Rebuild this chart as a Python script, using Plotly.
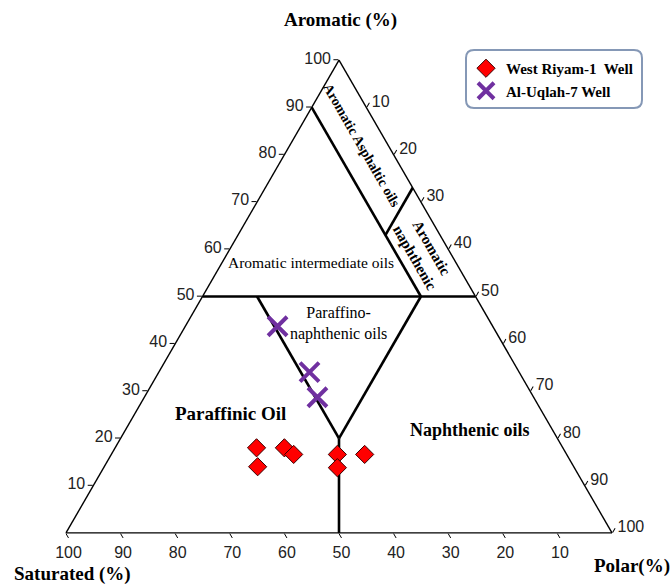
import plotly.graph_objects as go

W, H = 670, 585

# Oil compositions (%) -- Aromatic, Saturated, Polar
riyam_aro = [18.0, 14.0, 18.0, 16.6, 16.6, 13.8, 16.6]
riyam_sat = [56.1, 57.9, 51.0, 50.0, 42.0, 43.4, 37.0]
riyam_pol = [25.9, 28.1, 31.0, 33.4, 41.4, 42.8, 46.4]

uqlah_aro = [43.7, 34.0, 28.7]
uqlah_sat = [39.4, 38.4, 39.6]
uqlah_pol = [16.9, 27.6, 31.7]

# Oil-class boundaries: segment end points as (Aromatic, Saturated, Polar)
boundary_segments = [
    [(50, 50, 0), (50, 0, 50)],
    [(90, 10, 0), (50, 10, 40)],
    [(50, 40, 10), (20, 40, 40)],
    [(50, 10, 40), (20, 40, 40)],
    [(20, 40, 40), (0, 50, 50)],
    [(63, 10, 27), (73, 0, 27)],
]

tick_vals = [10, 20, 30, 40, 50, 60, 70, 80, 90, 100]
tick_text = [str(v) for v in tick_vals]


def px(x):
    return x / W


def py(y):
    return 1 - y / H


fig = go.Figure()

for seg in boundary_segments:
    fig.add_trace(go.Scatterternary(
        a=[p[0] for p in seg], b=[p[1] for p in seg], c=[p[2] for p in seg],
        mode="lines", line=dict(color="black", width=2.6),
        showlegend=False, hoverinfo="skip",
    ))

fig.add_trace(go.Scatterternary(
    a=riyam_aro, b=riyam_sat, c=riyam_pol, mode="markers",
    name="West Riyam-1\u00a0 Well",
    marker=dict(symbol="diamond", size=14, color="#ff0000",
                line=dict(color="#3a0000", width=1)),
))
fig.add_trace(go.Scatterternary(
    a=uqlah_aro, b=uqlah_sat, c=uqlah_pol, mode="markers",
    name="Al-Uqlah-7 Well",
    marker=dict(symbol="x-thin", size=19, color="#7030a0",
                line=dict(color="#7030a0", width=4)),
))

axis_style = dict(
    tickmode="array", tickvals=tick_vals, ticktext=tick_text,
    ticks="outside", ticklen=5, tickwidth=1, tickcolor="black",
    linecolor="black", linewidth=1.4, showgrid=False,
    tickfont=dict(family="Liberation Sans", size=16, color="#222"),
    title=dict(text=""),
)

fig.update_layout(
    width=W, height=H,
    margin=dict(l=0, r=0, t=0, b=0),
    paper_bgcolor="white",
    ternary=dict(
        sum=100, bgcolor="white",
        domain=dict(x=[px(66), px(612)], y=[py(533), py(60)]),
        aaxis=axis_style, baxis=axis_style, caxis=axis_style,
    ),
    legend=dict(
        x=px(466), y=py(52), xanchor="left", yanchor="top",
        bgcolor="rgba(0,0,0,0)", borderwidth=0,
        font=dict(family="Liberation Serif", size=15, color="black", weight="bold"),
    ),
    showlegend=True,
)

# rounded frame around the legend
x0, x1, y0, y1, r = px(466), px(642), py(108), py(50), 8
rx, ry = r / W, r / H
fig.add_shape(
    type="path", xref="paper", yref="paper",
    path=(f"M {x0+rx},{y1} L {x1-rx},{y1} Q {x1},{y1} {x1},{y1-ry} "
          f"L {x1},{y0+ry} Q {x1},{y0} {x1-rx},{y0} L {x0+rx},{y0} "
          f"Q {x0},{y0} {x0},{y0+ry} L {x0},{y1-ry} Q {x0},{y1} {x0+rx},{y1} Z"),
    line=dict(color="#8598b6", width=2), layer="below",
)

serif = "Liberation Serif"


def label(text, x, y, size, bold=False, angle=0):
    fig.add_annotation(
        text=f"<b>{text}</b>" if bold else text,
        x=px(x), y=py(y), xref="paper", yref="paper",
        xanchor="center", yanchor="middle", showarrow=False,
        textangle=angle, font=dict(family=serif, size=size, color="black"),
    )


# axis titles
label("Aromatic (%)", 340, 20, 19, bold=True)
label("Saturated (%)", 72, 574, 19, bold=True)
label("Polar(%)", 632, 566, 19, bold=True)

# oil-class names
label("Aromatic Asphaltic oils", 362, 145, 14, bold=True, angle=60)
label("Aromatic<br>naphthenic", 423, 253, 15, bold=True, angle=60)
label("Aromatic intermediate oils", 311, 262, 15.5)
label("Paraffino-<br>naphthenic oils", 338, 323, 16)
label("Paraffinic Oil", 230, 413, 19, bold=True)
label("Naphthenic oils", 470, 430, 18, bold=True)

fig.write_html("out.html")
